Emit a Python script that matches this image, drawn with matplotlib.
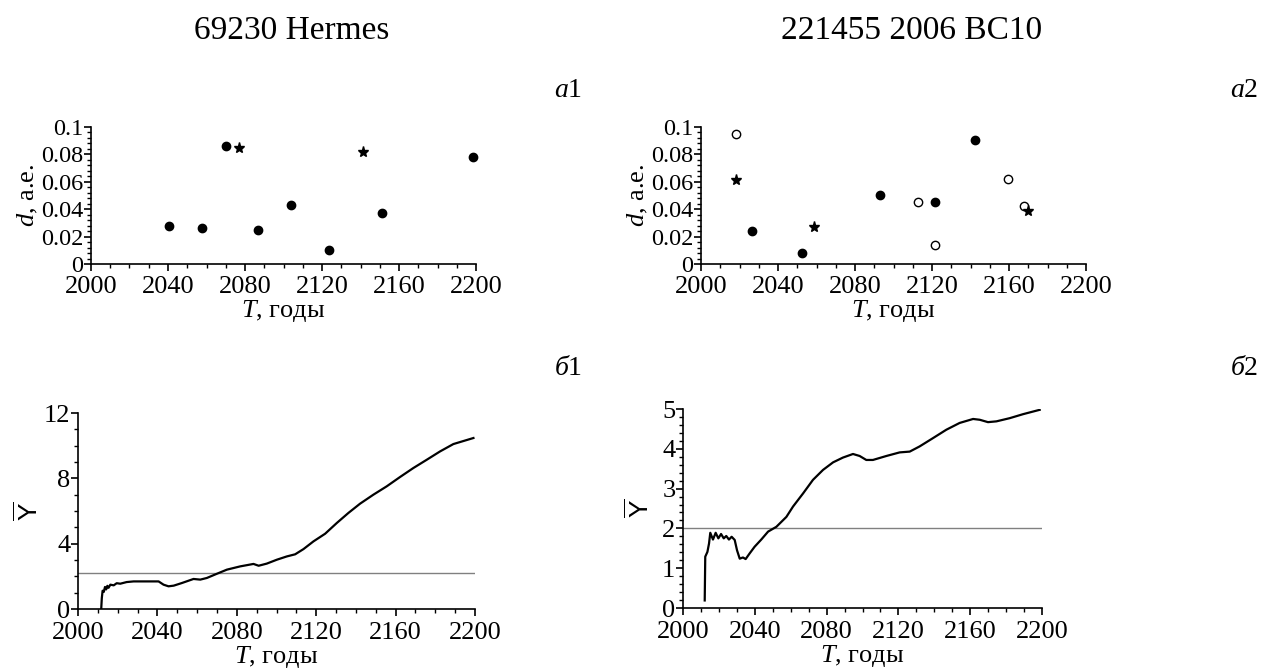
import matplotlib
matplotlib.use("Agg")
import numpy as np
import matplotlib.pyplot as plt
from matplotlib.ticker import MultipleLocator

plt.rcParams['font.family'] = ['Liberation Serif', 'DejaVu Serif']
plt.rcParams['mathtext.fontset'] = 'custom'
plt.rcParams['mathtext.rm'] = 'Liberation Serif'
plt.rcParams['mathtext.it'] = 'Liberation Serif:italic'
plt.rcParams['mathtext.sf'] = 'Liberation Sans'

# panel a1: 69230 Hermes
a1_fill_t = [2040.7, 2057.5, 2070.1, 2086.9, 2103.9, 2123.5, 2151.2, 2198.6]
a1_fill_d = [0.028, 0.0265, 0.086, 0.0247, 0.0432, 0.0099, 0.0375, 0.078]
a1_star_t = [2076.9, 2141.1]
a1_star_d = [0.085, 0.0815]

# panel a2: 221455 2006 BC10
a2_open_t = [2018.0, 2112.9, 2121.6, 2159.3, 2167.8]
a2_open_d = [0.0952, 0.045, 0.0142, 0.0617, 0.0426]
a2_fill_t = [2026.7, 2052.5, 2092.8, 2121.6, 2142.2]
a2_fill_d = [0.024, 0.0078, 0.0504, 0.045, 0.0903]
a2_star_t = [2018.2, 2058.5, 2170.0]
a2_star_d = [0.0613, 0.0269, 0.0387]

# panel b1
b1_t = [2011.7, 2012.0, 2012.4, 2013.0, 2013.6, 2014.2, 2014.8, 2015.4, 2016.3,
        2018.0, 2019.5, 2021.3, 2024.5, 2028.0, 2034.7, 2040.6, 2043.1, 2045.6,
        2048.2, 2052.3, 2058.2, 2061.6, 2064.9, 2070.0, 2075.0, 2081.7, 2088.4,
        2091.0, 2095.1, 2100.2, 2105.2, 2109.4, 2113.6, 2118.6, 2124.5, 2130.4,
        2136.2, 2142.1, 2148.8, 2155.5, 2162.2, 2168.9, 2175.7, 2182.4, 2189.1,
        2199.2]
b1_y = [0.0, 0.67, 1.12, 1.05, 1.35, 1.2, 1.42, 1.3, 1.49,
        1.45, 1.58, 1.55, 1.65, 1.69, 1.69, 1.69, 1.49, 1.39,
        1.43, 1.59, 1.84, 1.80, 1.90, 2.16, 2.41, 2.61, 2.76,
        2.65, 2.78, 3.02, 3.22, 3.35, 3.67, 4.14, 4.61, 5.27,
        5.88, 6.45, 7.0, 7.51, 8.08, 8.63, 9.14, 9.65, 10.1,
        10.47]
b1_level = 2.2

# panel b2
b2_t = [2012.1, 2012.4, 2013.6, 2014.5, 2015.2, 2016.7, 2018.2, 2019.7, 2021.2,
        2022.7, 2024.1, 2025.6, 2027.1, 2028.8, 2030.1, 2031.6, 2033.4, 2034.9,
        2037.1, 2039.9, 2043.6, 2047.4, 2052.0, 2057.6, 2061.3, 2066.9, 2072.4,
        2078.0, 2083.6, 2089.1, 2094.7, 2098.4, 2102.1, 2105.8, 2113.3, 2120.7,
        2126.3, 2131.8, 2139.3, 2146.7, 2154.1, 2161.6, 2165.3, 2169.9, 2174.6,
        2182.0, 2189.4, 2198.7]
b2_y = [0.19, 1.29, 1.41, 1.62, 1.89, 1.72, 1.89, 1.75, 1.86,
        1.75, 1.81, 1.72, 1.79, 1.71, 1.45, 1.24, 1.27, 1.23,
        1.37, 1.54, 1.72, 1.92, 2.04, 2.29, 2.55, 2.88, 3.22,
        3.47, 3.66, 3.78, 3.87, 3.82, 3.72, 3.72, 3.82, 3.91,
        3.93, 4.06, 4.27, 4.48, 4.65, 4.75, 4.73, 4.67, 4.69,
        4.77, 4.87, 4.98]
b2_level = 2.0

xlab = r'$T$, годы'
fs = 19


def style(ax, ymax, ymaj, ymin, ylabels, yfs):
    ax.set_xlim(2000, 2200)
    ax.set_ylim(0, ymax)
    ax.spines['top'].set_visible(False)
    ax.spines['right'].set_visible(False)
    for s in ['left', 'bottom']:
        ax.spines[s].set_linewidth(1.2)
    ax.xaxis.set_major_locator(MultipleLocator(40))
    ax.xaxis.set_minor_locator(MultipleLocator(10))
    ax.yaxis.set_major_locator(MultipleLocator(ymaj))
    ax.yaxis.set_minor_locator(MultipleLocator(ymin))
    ax.set_yticks(np.arange(len(ylabels)) * ymaj)
    ax.set_yticklabels(ylabels)
    ax.tick_params(which='major', direction='out', length=5, width=1.2)
    ax.tick_params(which='minor', direction='out', length=3, width=1)
    ax.tick_params(axis='x', which='major', labelsize=fs, pad=4)
    ax.tick_params(axis='y', which='major', labelsize=yfs, pad=0.5)
    ax.set_xlabel(xlab, fontsize=fs, labelpad=0)


fig = plt.figure(figsize=(12.62, 6.68), dpi=100)
ax1 = fig.add_axes([0.0721, 0.6048, 0.3051, 0.2051])
ax2 = fig.add_axes([0.5555, 0.6048, 0.3051, 0.2051])
ax3 = fig.add_axes([0.0618, 0.0883, 0.3146, 0.2934])
ax4 = fig.add_axes([0.5412, 0.0898, 0.2845, 0.2979])

dlabels = ['0', '0.02', '0.04', '0.06', '0.08', '0.1']

ax1.plot(a1_fill_t, a1_fill_d, 'o', color='black', ms=6, clip_on=False)
ax1.plot(a1_star_t, a1_star_d, '*', color='black', ms=8, clip_on=False)
style(ax1, 0.1, 0.02, 0.004, dlabels, 17.5)
ax1.set_ylabel(r'$d$, а.е.', fontsize=fs, labelpad=1)

ax2.plot(a2_open_t, a2_open_d, 'o', mfc='white', mec='black', ms=6, mew=1,
         clip_on=False)
ax2.plot(a2_fill_t, a2_fill_d, 'o', color='black', ms=6, clip_on=False)
ax2.plot(a2_star_t, a2_star_d, '*', color='black', ms=8, clip_on=False)
style(ax2, 0.1, 0.02, 0.004, dlabels, 17.5)
ax2.set_ylabel(r'$d$, а.е.', fontsize=fs, labelpad=1)

ax3.axhline(b1_level, color='#808080', lw=1)
ax3.plot(b1_t, b1_y, color='black', lw=1.6)
style(ax3, 12, 4, 1, ['0', '4', '8', '12'], fs)
ax3.set_ylabel(r'$\overline{\mathsf{Y}}$', fontsize=fs, labelpad=1)

ax4.axhline(b2_level, color='#808080', lw=1)
ax4.plot(b2_t, b2_y, color='black', lw=1.6)
style(ax4, 5, 1, 0.2, ['0', '1', '2', '3', '4', '5'], fs)
ax4.set_ylabel(r'$\overline{\mathsf{Y}}$', fontsize=fs, labelpad=6)

fig.text(292 / 1262, 1 - 31 / 668, '69230 Hermes', fontsize=24,
         ha='center', va='center')
fig.text(912 / 1262, 1 - 31 / 668, '221455 2006 BC10', fontsize=24,
         ha='center', va='center')

for x, y, lab in [(582, 97, 'а1'), (1258, 97, 'а2'),
                  (582, 375, 'б1'), (1258, 375, 'б2')]:
    fig.text(x / 1262, 1 - y / 668, r'$\mathit{' + lab[0] + '}$' + lab[1],
             fontsize=20, ha='right', va='baseline')

fig.savefig('out.png', dpi=100)
